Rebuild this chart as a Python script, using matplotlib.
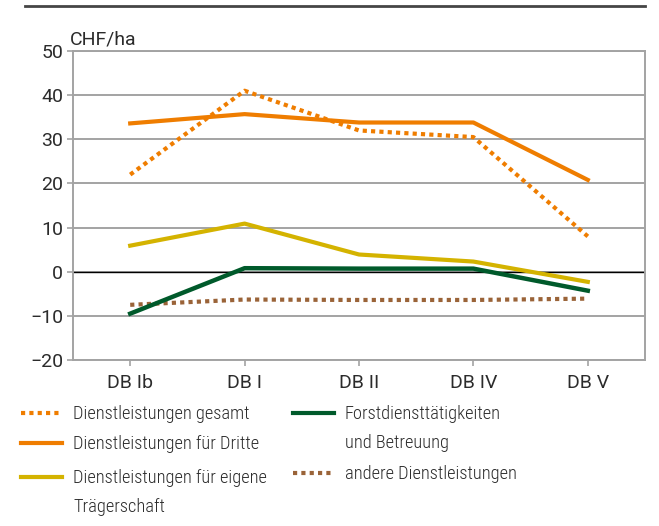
import matplotlib.pyplot as plt
from matplotlib.lines import Line2D

plt.rcParams['font.family'] = ['Roboto', 'DejaVu Sans']

categories = ['DB Ib', 'DB I', 'DB II', 'DB IV', 'DB V']
gesamt = [22, 41, 32, 30.5, 8]
dritte = [33.6, 35.7, 33.8, 33.8, 20.8]
eigene = [5.9, 10.9, 3.9, 2.3, -2.3]
forst = [-9.5, 0.8, 0.7, 0.7, -4.3]
andere = [-7.5, -6.3, -6.4, -6.4, -6.1]

orange = '#EF7D00'
yellow = '#D4B300'
green = '#005A2B'
brown = '#9A6338'
grid_grey = '#A3A3A3'
text_col = '#2B2B2B'

W, H = 659, 526
fig = plt.figure(figsize=(W / 100, H / 100), dpi=100)
ax = fig.add_axes([73 / W, 1 - 360 / H, 572 / W, 309 / H])

x = range(len(categories))
dot = (0, (1.0, 1.0))
ax.plot(x, gesamt, color=orange, lw=3, linestyle=dot, dash_capstyle='butt', zorder=3)
ax.plot(x, dritte, color=orange, lw=3, zorder=3)
ax.plot(x, eigene, color=yellow, lw=3, zorder=3)
ax.plot(x, forst, color=green, lw=3.2, zorder=4)
ax.plot(x, andere, color=brown, lw=3, linestyle=dot, dash_capstyle='butt', zorder=3)

ax.axhline(0, color='black', lw=1, zorder=2)
ax.set_xlim(-0.5, 4.5)
ax.set_ylim(-20, 50)
ax.set_yticks(range(-20, 51, 10))
ax.set_xticks(list(x))
ax.set_xticklabels(categories)
ax.grid(axis='y', color=grid_grey, lw=1.4, zorder=1)
ax.set_axisbelow(True)
for s in ax.spines.values():
    s.set_color(grid_grey)
    s.set_linewidth(1.4)
ax.tick_params(axis='both', colors=grid_grey, length=4, width=1.2, labelcolor=text_col, labelsize=14)
ax.tick_params(axis='y', pad=3)
ax.tick_params(axis='x', pad=6)

fig.text(70 / W, 1 - 44 / H, 'CHF/ha', fontsize=14, color=text_col, va='baseline')

# rule at the top
fig.add_artist(Line2D([25 / W, 645 / W], [1 - 6 / H, 1 - 6 / H], color='#454545', lw=2))

# legend, drawn by hand so the handle sits on the first text line
leg_font = ['Roboto Condensed', 'Roboto', 'DejaVu Sans']
entries = [
    (21, 413, orange, dot, 'Dienstleistungen gesamt'),
    (21, 443, orange, '-', 'Dienstleistungen für Dritte'),
    (21, 477, yellow, '-', 'Dienstleistungen für eigene\nTrägerschaft'),
    (293, 413, green, '-', 'Forstdiensttätigkeiten\nund Betreuung'),
    (293, 473, brown, dot, 'andere Dienstleistungen'),
]
for lx, ly, c, ls, lab in entries:
    fig.add_artist(Line2D([lx / W, (lx + 41) / W], [1 - ly / H, 1 - ly / H],
                          color=c, lw=3, linestyle=ls, dash_capstyle='butt'))
    fig.text((lx + 52) / W, 1 - (ly - 8) / H, lab, fontsize=13.2, color=text_col,
             va='top', linespacing=1.8, family=leg_font, fontweight='light')

fig.savefig('out.png', dpi=100)
